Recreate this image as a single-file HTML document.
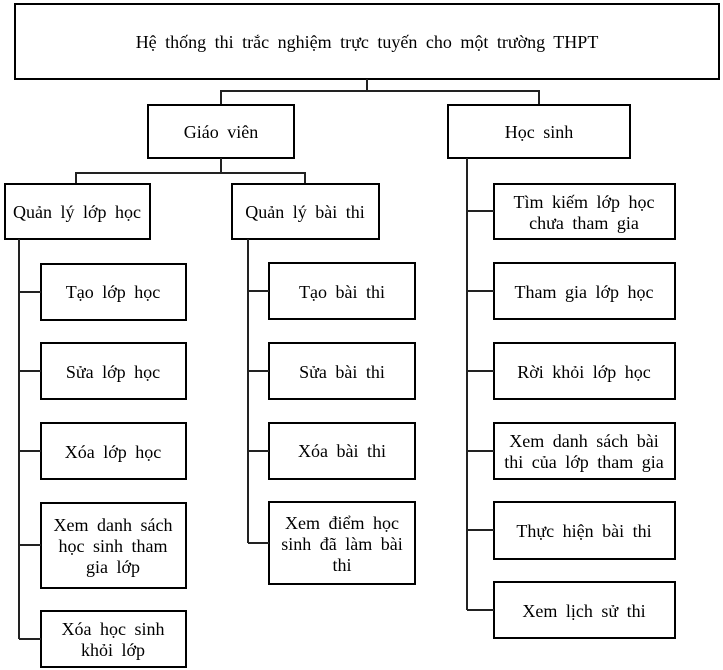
<!DOCTYPE html>
<html><head><meta charset="utf-8"><style>
html,body{margin:0;padding:0;background:#fff;width:723px;height:670px;overflow:hidden}
svg text{font-family:"Liberation Serif",serif;font-size:18px;word-spacing:4px;fill:#000;text-anchor:middle}
</style></head><body>
<svg width="723" height="670" viewBox="0 0 723 670" xmlns="http://www.w3.org/2000/svg">
<g fill="none" stroke="#000" stroke-width="2">
<rect x="15" y="4" width="704" height="75"/>
<rect x="148" y="105" width="146" height="53"/>
<rect x="448" y="105" width="182" height="53"/>
<rect x="5" y="184" width="145" height="55"/>
<rect x="232" y="184" width="147" height="55"/>
<rect x="494" y="184" width="181" height="55"/>
<rect x="41" y="264" width="145" height="56"/>
<rect x="41" y="343" width="145" height="56"/>
<rect x="41" y="423" width="145" height="56"/>
<rect x="41" y="503" width="145" height="85"/>
<rect x="41" y="611" width="145" height="56"/>
<rect x="269" y="263" width="146" height="56"/>
<rect x="269" y="343" width="146" height="56"/>
<rect x="269" y="423" width="146" height="56"/>
<rect x="269" y="502" width="146" height="82"/>
<rect x="494" y="263" width="181" height="56"/>
<rect x="494" y="343" width="181" height="56"/>
<rect x="494" y="423" width="181" height="56"/>
<rect x="494" y="502" width="181" height="57"/>
<rect x="494" y="582" width="181" height="56"/>
</g>
<g fill="none" stroke="#222" stroke-width="2">
<path d="M367 79V91M221 104V91H539V104"/>
<path d="M221 158V173M76 183V173H305V183"/>
<path d="M19 239V639M19 292H41M19 371H41M19 451H41M19 545H41M19 639H41"/>
<path d="M248 239V543M248 291H269M248 371H269M248 451H269M248 543H269"/>
<path d="M467 158V610M467 211H494M467 291H494M467 371H494M467 451H494M467 530H494M467 610H494"/>
</g>
<text x="367" y="48">Hệ thống thi trắc nghiệm trực tuyến cho một trường THPT</text>
<text x="221" y="138">Giáo viên</text>
<text x="539" y="138">Học sinh</text>
<text x="77" y="218">Quản lý lớp học</text>
<text x="305" y="218">Quản lý bài thi</text>
<text x="584" y="208">Tìm kiếm lớp học</text>
<text x="584" y="229">chưa tham gia</text>
<text x="113" y="298">Tạo lớp học</text>
<text x="113" y="378">Sửa lớp học</text>
<text x="113" y="458">Xóa lớp học</text>
<text x="113" y="531">Xem danh sách</text>
<text x="113" y="552">học sinh tham</text>
<text x="113" y="573">gia lớp</text>
<text x="113" y="635">Xóa học sinh</text>
<text x="113" y="656">khỏi lớp</text>
<text x="342" y="298">Tạo bài thi</text>
<text x="342" y="378">Sửa bài thi</text>
<text x="342" y="457">Xóa bài thi</text>
<text x="342" y="529">Xem điểm học</text>
<text x="342" y="550">sinh đã làm bài</text>
<text x="342" y="571">thi</text>
<text x="584" y="298">Tham gia lớp học</text>
<text x="584" y="378">Rời khỏi lớp học</text>
<text x="584" y="447">Xem danh sách bài</text>
<text x="584" y="468">thi của lớp tham gia</text>
<text x="584" y="537">Thực hiện bài thi</text>
<text x="584" y="617">Xem lịch sử thi</text>
</svg>
</body></html>
